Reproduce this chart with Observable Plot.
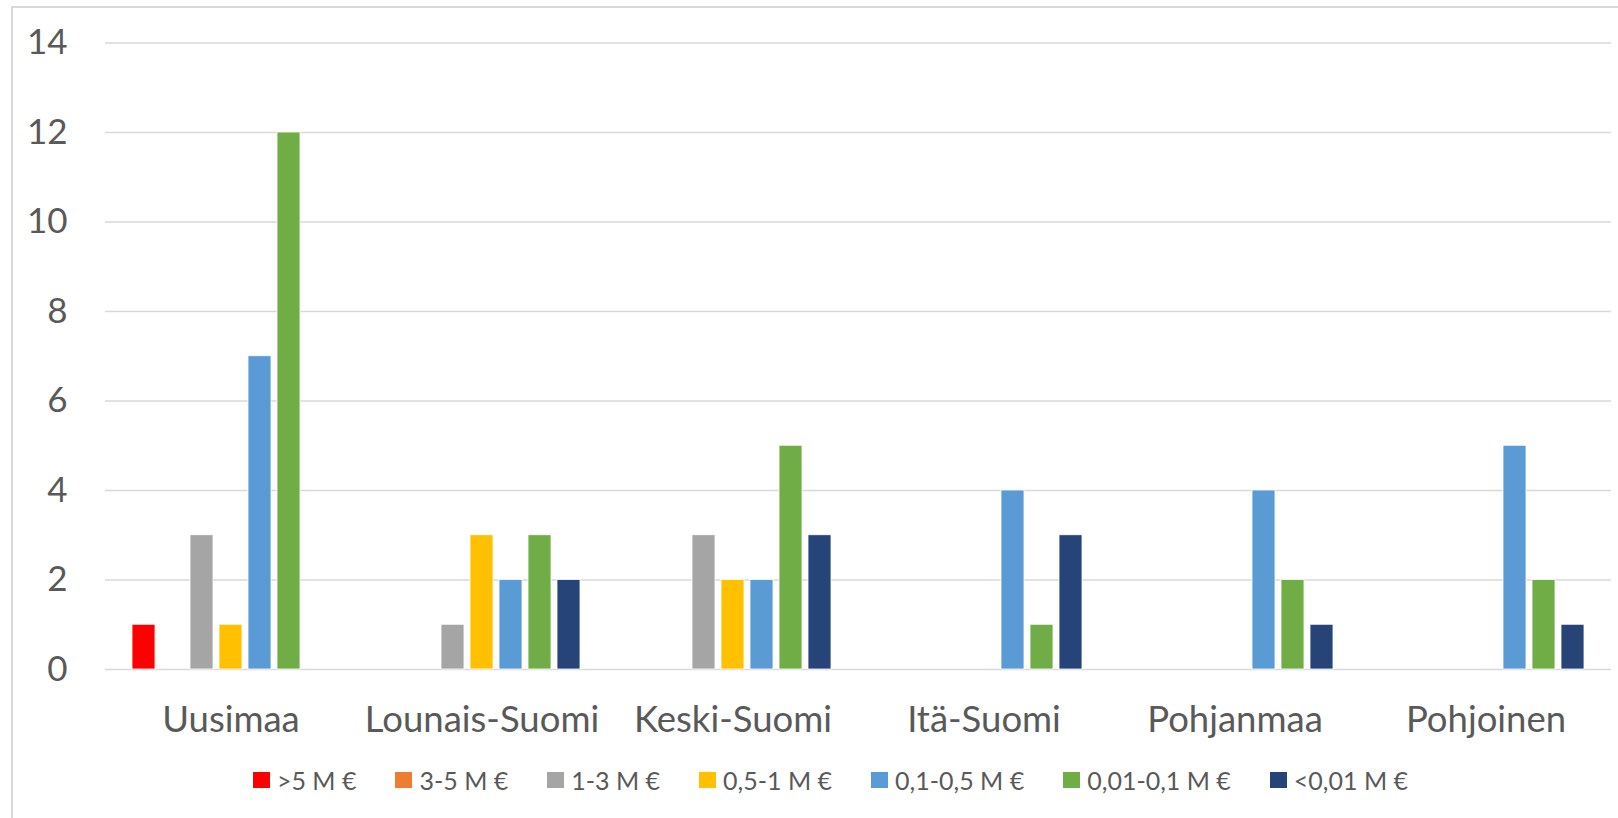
<!DOCTYPE html>
<html>
<head>
<meta charset="utf-8">
<script src="https://cdn.jsdelivr.net/npm/d3@7"></script>
<script src="https://cdn.jsdelivr.net/npm/@observablehq/plot@0.6"></script>
<style>
  html, body { margin: 0; padding: 0; background: #fff; width: 1618px; height: 818px; overflow: hidden; }
  #frame { position: absolute; left: 11px; top: 6px; width: 1700px; height: 900px; border: 2px solid #d9d9d9; box-sizing: border-box; }
  #chart { position: absolute; left: 0; top: 0; }
  #legend { position: absolute; left: 0; top: 765px; width: 1618px; display: flex; justify-content: center; gap: 39px; padding-left: 43px; box-sizing: border-box;
            font-family: Lato, sans-serif; font-size: 25px; color: #595959; }
  .item { display: flex; align-items: center; }
  .sw { width: 17px; height: 16px; margin-right: 7px; }
</style>
</head>
<body>
<div id="frame"></div>
<div id="chart"></div>
<div id="legend"></div>
<script>
const regions = ["Uusimaa", "Lounais-Suomi", "Keski-Suomi", "Itä-Suomi", "Pohjanmaa", "Pohjoinen"];
const seriesNames = [">5 M €", "3-5 M €", "1-3 M €", "0,5-1 M €", "0,1-0,5 M €", "0,01-0,1 M €", "<0,01 M €"];
const seriesColors = ["#FF0000", "#ED7D31", "#A5A5A5", "#FFC000", "#5B9BD5", "#70AD47", "#264478"];
// values per series, one per region
const over5 = [1, 0, 0, 0, 0, 0];
const m3to5 = [0, 0, 0, 0, 0, 0];
const m1to3 = [3, 1, 3, 0, 0, 0];
const m05to1 = [1, 3, 2, 0, 0, 0];
const m01to05 = [7, 2, 2, 4, 4, 5];
const m001to01 = [12, 3, 5, 1, 2, 2];
const under001 = [0, 2, 3, 3, 1, 1];
const yTicks = [0, 2, 4, 6, 8, 10, 12, 14];

const seriesValues = [over5, m3to5, m1to3, m05to1, m01to05, m001to01, under001];
const data = [];
seriesNames.forEach((s, i) => regions.forEach((r, j) => {
  if (seriesValues[i][j] > 0) data.push({region: r, series: s, value: seriesValues[i][j]});
}));

const chart = Plot.plot({
  width: 1618,
  height: 750,
  marginLeft: 103,
  marginRight: 6,
  marginTop: 42.5,
  marginBottom: 81,
  style: {fontFamily: "Lato, sans-serif", fontSize: "35px", color: "#595959", background: "transparent"},
  fx: {domain: regions, padding: 0, label: null},
  x: {domain: seriesNames, paddingInner: 0.22, paddingOuter: 0.873, axis: null},
  y: {domain: [0, 14], label: null},
  color: {domain: seriesNames, range: seriesColors},
  marks: [
    Plot.gridY(yTicks.filter(d => d > 0), {stroke: "#d9d9d9", strokeOpacity: 1, strokeWidth: 1.3}),
    Plot.ruleY([0], {stroke: "#d9d9d9", strokeWidth: 1.6}),
    Plot.barY(data, {fx: "region", x: "series", y: "value", fill: "series", stroke: "#fff", strokeWidth: 0.8}),
    Plot.axisY(yTicks, {tickSize: 0, tickPadding: 38, fontSize: 35, fill: "#595959", label: null}),
    Plot.axisFx({anchor: "bottom", tickSize: 0, tickPadding: 37, fontSize: 36.5, fill: "#595959", label: null})
  ]
});
document.getElementById("chart").appendChild(chart);

const legend = document.getElementById("legend");
seriesNames.forEach((s, i) => {
  const item = document.createElement("div");
  item.className = "item";
  const sw = document.createElement("div");
  sw.className = "sw";
  sw.style.background = seriesColors[i];
  const t = document.createElement("span");
  t.textContent = s;
  item.appendChild(sw);
  item.appendChild(t);
  legend.appendChild(item);
});
</script>
</body>
</html>
